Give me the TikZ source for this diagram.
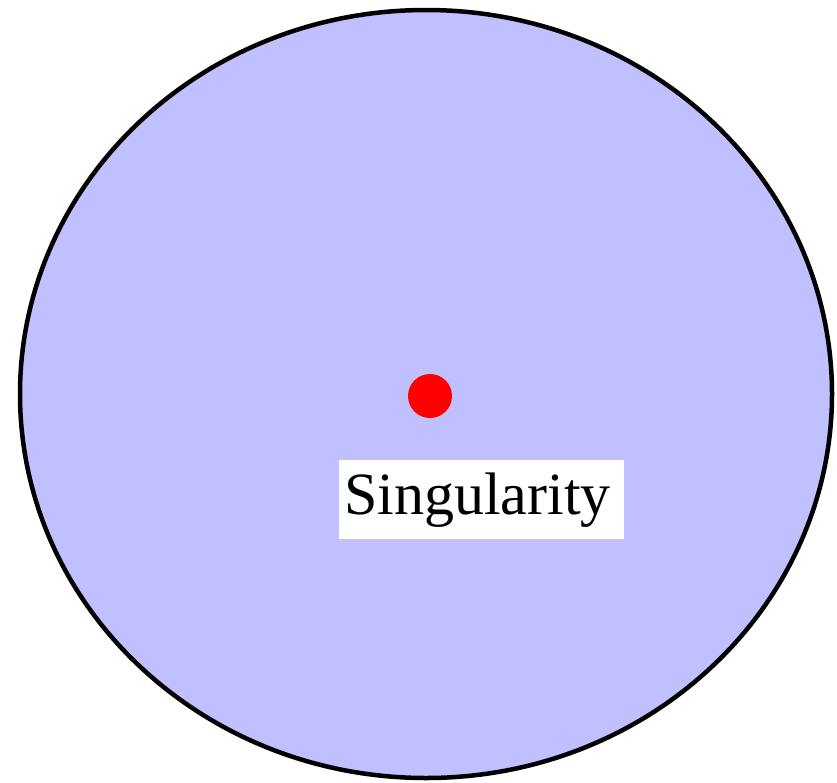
\documentclass[tikz,border=0pt]{standalone}
\usepackage{fontspec}
\setmainfont{Liberation Serif}
\definecolor{diskblue}{RGB}{192,192,255}
\begin{document}
\begin{tikzpicture}[
  x=1pt, y=-1pt,
  disk/.style={draw=black, line width=4.5pt, fill=diskblue},
  point/.style={circle, fill=red, inner sep=0pt, minimum size=44pt},
  label box/.style={fill=white, inner xsep=5pt, inner ysep=12pt, text width=275pt,
    align=left, font=\fontsize{60}{62}\selectfont}
]
\useasboundingbox (0,0) rectangle (837,782);

% the disk
\draw[disk] (426,394) ellipse [x radius=406, y radius=384];

% the centre point and its label
\node[point] (sing) at (430,396) {};
\node[label box, anchor=base west] (singlabel) at (339,514) {Singularity};

\end{tikzpicture}
\end{document}
